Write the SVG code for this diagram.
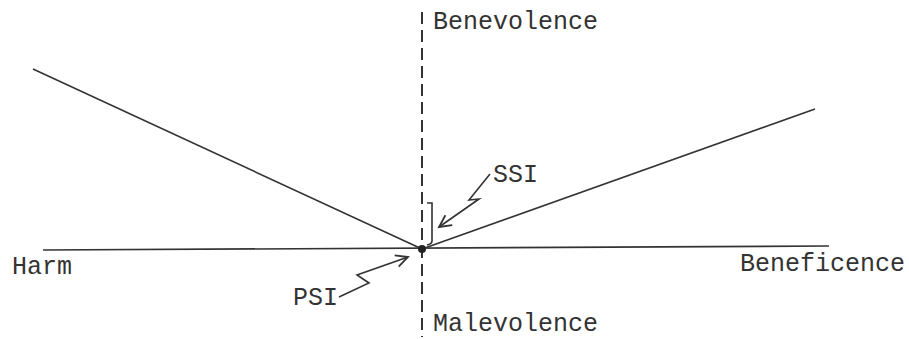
<svg xmlns="http://www.w3.org/2000/svg" width="909" height="339" viewBox="0 0 909 339">
<style>
.t{font-family:"Liberation Mono","Courier New",monospace;font-size:25px;fill:#333}
.ln{stroke:#333;stroke-width:1.6;fill:none}
.dash{stroke:#333;stroke-width:2;stroke-dasharray:12 6;fill:none}
</style>
<defs>
<marker id="ah" markerWidth="16" markerHeight="16" refX="13" refY="8" orient="auto" markerUnits="userSpaceOnUse">
<path d="M1,2 L13,8 L1,14" fill="none" stroke="#333" stroke-width="1.8"/>
</marker>
</defs>
<rect width="909" height="339" fill="#fff"/>
<g id="axes">
<line class="ln" x1="43" y1="250" x2="829" y2="246"/>
<line class="dash" x1="422" y1="12" x2="422" y2="337"/>
</g>
<g id="connectors">
<line class="ln" x1="33" y1="69" x2="422" y2="249"/>
<line class="ln" x1="422" y1="249" x2="815" y2="109"/>
<polyline class="ln" points="339,297 369,283 357,275 408,257" marker-end="url(#ah)"/>
<polyline class="ln" points="490,174 469,200 479,199 439,227" marker-end="url(#ah)"/>
<path class="ln" d="M427,203 L432,203 L432,241 Q432,244 427,245"/>
</g>
<g id="psi-point"><circle cx="422" cy="249" r="4" fill="#222"/></g>
<g id="benevolence"><text class="t" x="433" y="29">Benevolence</text></g>
<g id="malevolence"><text class="t" x="433" y="331">Malevolence</text></g>
<g id="harm"><text class="t" x="12" y="274">Harm</text></g>
<g id="beneficence"><text class="t" x="740" y="271">Beneficence</text></g>
<g id="psi"><text class="t" x="293" y="305">PSI</text></g>
<g id="ssi"><text class="t" x="493" y="182">SSI</text></g>
</svg>
